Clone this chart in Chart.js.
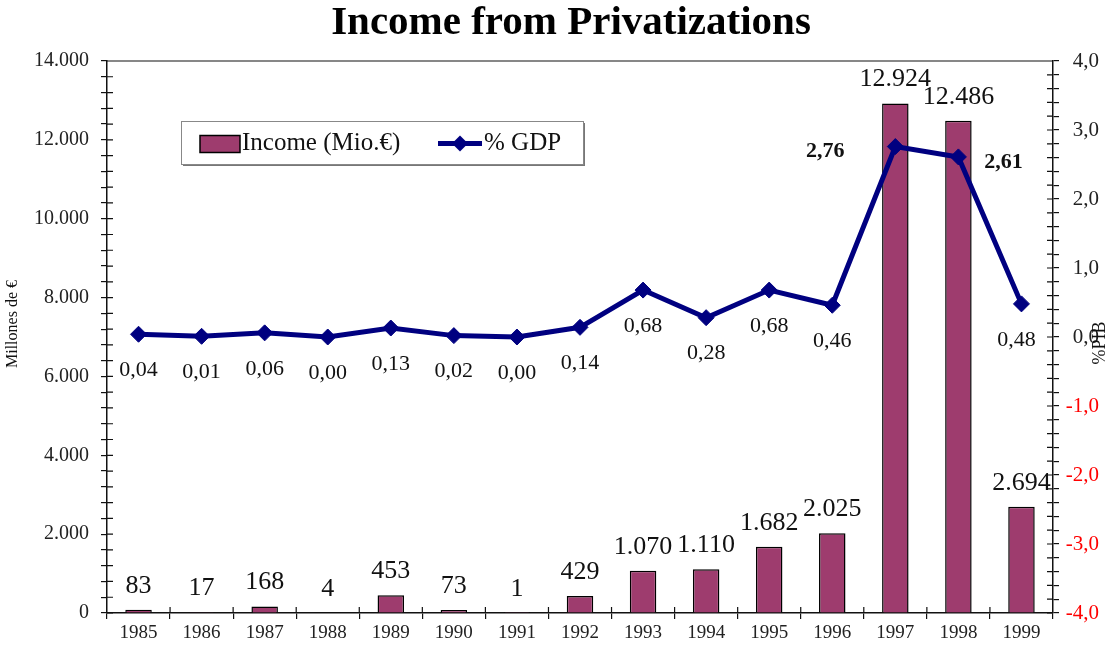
<!DOCTYPE html>
<html lang="en">
<head>
    <meta charset="UTF-8">
    <title>Income from Privatizations</title>
    <script src="https://cdn.jsdelivr.net/npm/chart.js"></script>
    <style>
        html, body { margin: 0; padding: 0; background: #fff; }
        #wrap { width: 1108px; height: 651px; }
    </style>
</head>
<body>
<div id="wrap">
    <canvas id="myChart"></canvas>
</div>
<script>

    // data
    const years = ['1985', '1986', '1987', '1988', '1989', '1990', '1991', '1992', '1993', '1994', '1995', '1996', '1997', '1998', '1999']
    const income = [83, 17, 168, 4, 453, 73, 1, 429, 1070, 1110, 1682, 2025, 12924, 12486, 2694]
    const gdp = [0.04, 0.01, 0.06, 0.00, 0.13, 0.02, 0.00, 0.14, 0.68, 0.28, 0.68, 0.46, 2.76, 2.61, 0.48]

    const serif = "'Liberation Serif', 'Times New Roman', serif"
    const barColor = '#9e3c6e'
    const lineColor = '#000080'

    let miles = n => String(n).replace(/\B(?=(\d{3})+(?!\d))/g, '.')
    let coma = (n, d) => n.toFixed(d).replace('.', ',')

    // ticks that cross the axes (Chart.js only draws the outer half)
    const crossTicks = {
        id: 'crossTicks',
        afterDraw(chart) {
            const ctx = chart.ctx
            const a = chart.chartArea
            ctx.save()
            ctx.strokeStyle = '#111'
            ctx.lineWidth = 1.2
            ctx.beginPath()
            const yl = chart.scales.y
            yl.ticks.forEach((t, i) => {
                const p = yl.getPixelForTick(i)
                ctx.moveTo(a.left, p); ctx.lineTo(a.left + 6, p)
            })
            const yr = chart.scales.y2
            yr.ticks.forEach((t, i) => {
                const p = yr.getPixelForTick(i)
                ctx.moveTo(a.right - 6, p); ctx.lineTo(a.right, p)
            })
            const xs = chart.scales.x
            const n = years.length
            for (let i = 1; i < n; i++) {
                const p = xs.left + i * xs.width / n
                ctx.moveTo(p, a.bottom - 6); ctx.lineTo(p, a.bottom)
            }
            // top border of the plot
            ctx.moveTo(a.left, a.top); ctx.lineTo(a.right, a.top)
            ctx.stroke()
            ctx.restore()
        }
    }

    // title, value labels, axis titles and legend box
    const extras = {
        id: 'extras',
        afterDatasetsDraw(chart) {
            const ctx = chart.ctx
            ctx.save()
            ctx.fillStyle = '#111'

            // bar labels
            ctx.font = `26px ${serif}`
            ctx.textAlign = 'center'
            ctx.textBaseline = 'alphabetic'
            chart.getDatasetMeta(1).data.forEach((bar, i) => {
                ctx.fillText(miles(income[i]), bar.x, bar.y - 17)
            })

            // line labels
            ctx.textBaseline = 'middle'
            chart.getDatasetMeta(0).data.forEach((pt, i) => {
                if (i === 12) {
                    ctx.font = `bold 22px ${serif}`
                    ctx.textAlign = 'center'
                    ctx.fillText(coma(gdp[i], 2), pt.x - 70, pt.y + 5)
                } else if (i === 13) {
                    ctx.font = `bold 22px ${serif}`
                    ctx.textAlign = 'center'
                    ctx.fillText(coma(gdp[i], 2), pt.x + 45, pt.y + 5)
                } else {
                    ctx.font = `22px ${serif}`
                    ctx.textAlign = 'center'
                    ctx.fillText(coma(gdp[i], 2), pt.x - (i === 14 ? 5 : 0), pt.y + 36)
                }
            })
            ctx.restore()
        },
        afterDraw(chart) {
            const ctx = chart.ctx
            ctx.save()

            ctx.fillStyle = '#000'
            ctx.font = `bold 41px ${serif}`
            ctx.textAlign = 'center'
            ctx.textBaseline = 'alphabetic'
            ctx.fillText('Income from Privatizations', 571, 34)

            ctx.fillStyle = '#111'
            ctx.textBaseline = 'middle'

            ctx.save()
            ctx.font = `16px ${serif}`
            ctx.translate(13, 324)
            ctx.rotate(-Math.PI / 2)
            ctx.fillText('Millones de €', 0, 0)
            ctx.restore()

            ctx.save()
            ctx.font = `18px ${serif}`
            ctx.translate(1100, 343)
            ctx.rotate(-Math.PI / 2)
            ctx.fillText('%PIB', 0, 0)
            ctx.restore()

            // legend
            const lx = 181, ly = 121, lw = 402, lh = 43
            ctx.fillStyle = '#777'
            ctx.fillRect(lx + 2, ly + 2, lw, lh)
            ctx.fillStyle = '#fff'
            ctx.fillRect(lx, ly, lw, lh)
            ctx.strokeStyle = '#888'
            ctx.lineWidth = 1
            ctx.strokeRect(lx + 0.5, ly + 0.5, lw, lh)

            const cy = ly + lh / 2 + 1
            ctx.fillStyle = barColor
            ctx.fillRect(200, cy - 8, 40, 17)
            ctx.strokeStyle = '#000'
            ctx.lineWidth = 1.5
            ctx.strokeRect(200, cy - 8, 40, 17)

            ctx.fillStyle = '#111'
            ctx.font = `25px ${serif}`
            ctx.textAlign = 'left'
            ctx.fillText('Income (Mio.€)', 242, cy)

            ctx.strokeStyle = lineColor
            ctx.lineWidth = 5
            ctx.beginPath()
            ctx.moveTo(438, cy); ctx.lineTo(482, cy)
            ctx.stroke()
            ctx.fillStyle = lineColor
            ctx.beginPath()
            ctx.moveTo(460, cy - 8); ctx.lineTo(468, cy); ctx.lineTo(460, cy + 8); ctx.lineTo(452, cy)
            ctx.closePath()
            ctx.fill()

            ctx.fillStyle = '#111'
            ctx.fillText('% GDP', 484, cy)
            ctx.restore()
        }
    }

    const ctx = document.getElementById('myChart')

    new Chart(ctx, {
        data: {
            labels: years,
            datasets: [{
                type: 'line',
                label: '% GDP',
                data: gdp,
                yAxisID: 'y2',
                borderColor: lineColor,
                backgroundColor: lineColor,
                borderWidth: 5,
                pointStyle: 'rectRot',
                pointRadius: 8,
                pointBorderWidth: 1,
                tension: 0,
                order: 0
            }, {
                type: 'bar',
                label: 'Income (Mio.€)',
                data: income,
                yAxisID: 'y',
                backgroundColor: barColor,
                borderColor: '#000',
                borderWidth: 1.5,
                barPercentage: 0.42,
                categoryPercentage: 1,
                order: 1
            }]
        },
        options: {
            responsive: true,
            maintainAspectRatio: false,
            animation: false,
            layout: { padding: { top: 61, right: 9 } },
            plugins: {
                legend: { display: false },
                tooltip: { enabled: false },
                title: { display: false }
            },
            scales: {
                x: {
                    afterFit: s => { s.height = 38 },
                    grid: { drawOnChartArea: false, tickLength: 6, color: '#111', lineWidth: 1.2 },
                    border: { color: '#111', width: 1.5 },
                    ticks: { color: '#222', font: { family: serif, size: 19 }, padding: 3, maxRotation: 0 }
                },
                y: {
                    position: 'left',
                    min: 0,
                    max: 14000,
                    afterFit: s => { s.width = 107 },
                    grid: { drawOnChartArea: false, tickLength: 6, color: '#111', lineWidth: 1.2 },
                    border: { color: '#111', width: 1.5 },
                    ticks: {
                        stepSize: 400,
                        autoSkip: false,
                        color: '#222',
                        font: { family: serif, size: 20 },
                        padding: 12,
                        callback: v => v % 2000 === 0 ? miles(v) : ''
                    }
                },
                y2: {
                    position: 'right',
                    min: -4,
                    max: 4,
                    afterFit: s => { s.width = 46 },
                    grid: { drawOnChartArea: false, tickLength: 6, color: '#111', lineWidth: 1.2 },
                    border: { color: '#111', width: 1.5 },
                    ticks: {
                        stepSize: 0.2,
                        autoSkip: false,
                        crossAlign: 'far',
                        font: { family: serif, size: 21 },
                        padding: 3,
                        color: c => c.tick && c.tick.value < -1e-6 ? '#ff0000' : '#222',
                        callback: v => Math.abs(v - Math.round(v)) < 1e-6 ? coma(Math.round(v) === 0 ? 0 : Math.round(v), 1) : ''
                    }
                }
            }
        },
        plugins: [crossTicks, extras]
    })
</script>
</body>
</html>
